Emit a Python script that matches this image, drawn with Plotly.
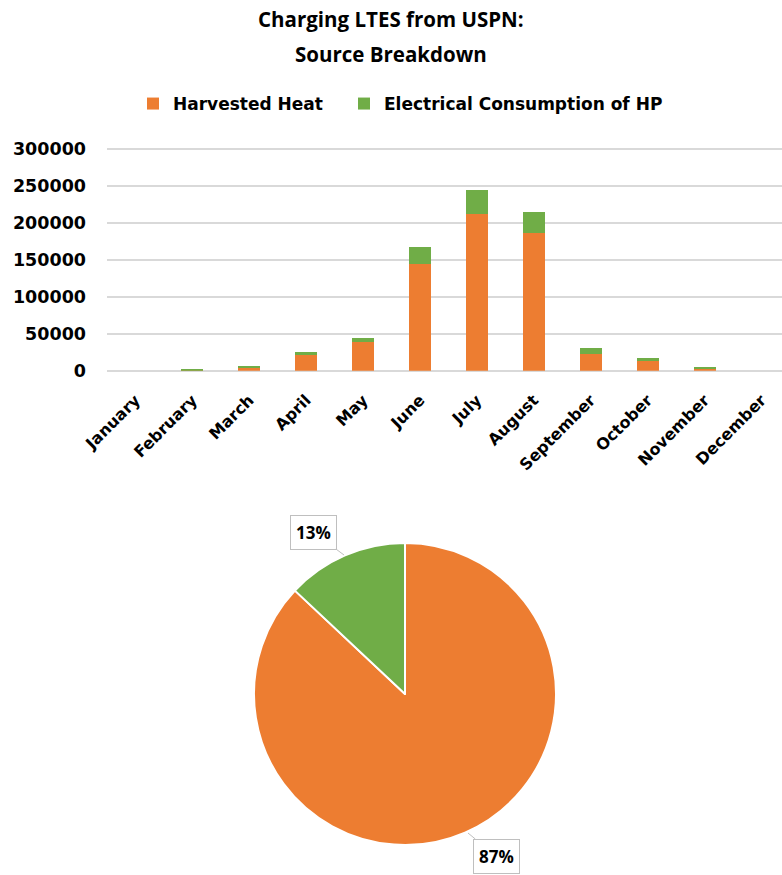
import plotly.graph_objects as go

# Monthly charging energy of the LTES, split by source
months = ["January", "February", "March", "April", "May", "June",
          "July", "August", "September", "October", "November", "December"]
harvested_heat = [0, 300, 4500, 23000, 38900, 145000, 212800, 186600, 23000, 13100, 3200, 0]
hp_electricity = [0, 2300, 2300, 2300, 5800, 22200, 32100, 28400, 7700, 3600, 1800, 0]

# Annual share of each source (percent)
share_labels = ["Harvested Heat", "Electrical Consumption of HP"]
share_values = [87, 13]

y_ticks = [0, 50000, 100000, 150000, 200000, 250000, 300000]

ORANGE = "#ED7D31"
GREEN = "#70AD47"
W, H = 782, 875
TITLE_FONT = "Open Sans"
TEXT_FONT = "DejaVu Sans"


def px_x(x):
    return x / W


def px_y(y):
    return 1 - y / H


fig = go.Figure()

fig.add_trace(go.Bar(
    x=months, y=harvested_heat, name=share_labels[0],
    marker=dict(color=ORANGE, line=dict(width=0)),
    xaxis="x", yaxis="y", legend="legend",
))
fig.add_trace(go.Bar(
    x=months, y=hp_electricity, name=share_labels[1],
    marker=dict(color=GREEN, line=dict(width=0)),
    xaxis="x", yaxis="y", legend="legend2",
))

# Pie: starts at 12 o'clock, clockwise, orange first
cx, cy, r = 405, 694, 151
fig.add_trace(go.Pie(
    labels=share_labels, values=share_values, sort=False,
    direction="clockwise", rotation=0,
    marker=dict(colors=[ORANGE, GREEN], line=dict(color="white", width=2)),
    textinfo="none", hoverinfo="label+percent", showlegend=False,
    domain=dict(x=[px_x(cx - r), px_x(cx + r)], y=[px_y(cy + r), px_y(cy - r)]),
))

annotations = [
    dict(text="<b>Charging LTES from USPN:</b>", x=0.5, y=px_y(19), xref="paper", yref="paper",
         yanchor="middle", showarrow=False,
         font=dict(size=20.5, color="#000000", family=TITLE_FONT)),
    dict(text="<b>Source Breakdown</b>", x=0.5, y=px_y(54), xref="paper", yref="paper",
         yanchor="middle", showarrow=False,
         font=dict(size=20.5, color="#000000", family=TITLE_FONT)),
]

# Percentage callouts with leader lines
callouts = [
    (share_values[1], (344, 555), (313, 532)),
    (share_values[0], (468, 833), (496, 856)),
]
for val, (px_, py_), (bx, by) in callouts:
    annotations.append(dict(
        text=f"<b>{val}%</b>", x=px_x(px_), y=px_y(py_), xref="paper", yref="paper",
        showarrow=True, arrowhead=0, arrowwidth=1, arrowcolor="#bfbfbf",
        ax=bx - px_, ay=by - py_, axref="pixel", ayref="pixel",
        bordercolor="#bfbfbf", borderwidth=1, borderpad=5, bgcolor="white",
        font=dict(size=17, color="#000000", family=TITLE_FONT),
    ))

legend_style = dict(
    orientation="h", xanchor="left", y=px_y(104), yanchor="middle",
    font=dict(size=17, family=TEXT_FONT, color="#000000", weight="bold"),
    bgcolor="rgba(0,0,0,0)",
)

# Value axis: 0 sits at y=370.7 px and 300000 at y=149.3 px; the range is
# padded a little above 300000 so the top gridline is drawn inside the plot.
Y_ZERO_PX, Y_TOP_PX, Y_TOP_VAL, Y_MAX = 370.7, 149.3, 300000, 305000
y_domain_top = Y_ZERO_PX - (Y_ZERO_PX - Y_TOP_PX) * Y_MAX / Y_TOP_VAL

fig.update_layout(
    width=W, height=H,
    margin=dict(l=0, r=0, t=0, b=0, autoexpand=False),
    paper_bgcolor="white", plot_bgcolor="white",
    barmode="stack", bargap=0.61,
    font=dict(family=TEXT_FONT, color="#000000"),
    showlegend=True,
    legend=dict(x=px_x(133), **legend_style),
    legend2=dict(x=px_x(344), **legend_style),
    xaxis=dict(
        domain=[px_x(107), 1.0], range=[-0.5, 11.36], automargin=False,
        tickangle=-45, showgrid=False, showline=False, ticks="",
        ticklabelstandoff=16,
        tickfont=dict(size=16, family=TEXT_FONT, color="#000000", weight="bold"),
        fixedrange=True,
    ),
    yaxis=dict(
        domain=[px_y(Y_ZERO_PX), px_y(y_domain_top)], range=[0, Y_MAX], automargin=False,
        tickvals=y_ticks, ticktext=[str(v) for v in y_ticks],
        showgrid=True, gridcolor="#d9d9d9", gridwidth=1.5,
        zeroline=True, zerolinecolor="#d9d9d9", zerolinewidth=2,
        showline=False, ticks="", ticklabelstandoff=20,
        tickfont=dict(size=17.5, family=TEXT_FONT, color="#000000", weight="bold"),
        fixedrange=True,
    ),
    annotations=annotations,
)

fig.write_html("out.html")
